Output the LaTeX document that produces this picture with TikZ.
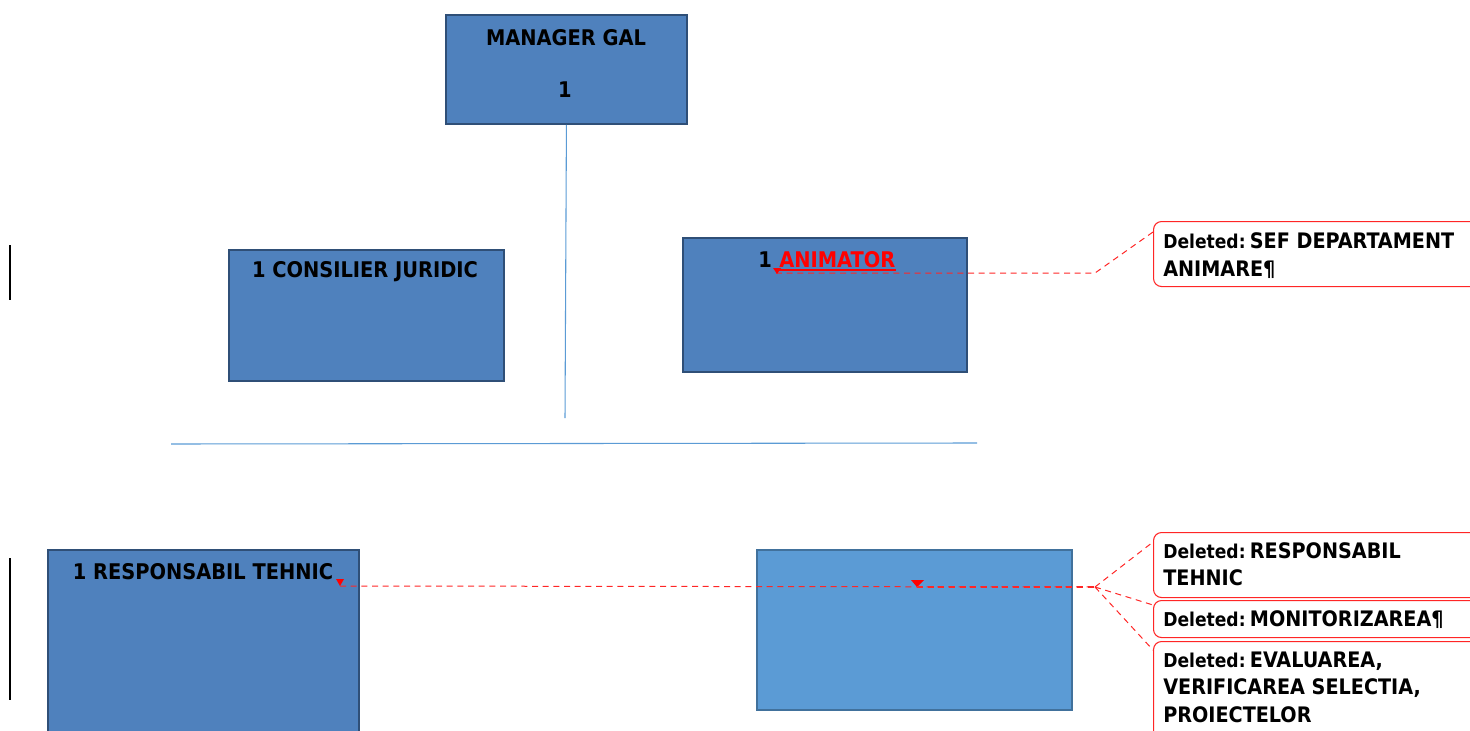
\documentclass[tikz,border=0pt]{standalone}
\usepackage{fontspec}
\setmainfont{DejaVu Sans Condensed}
\usetikzlibrary{calc}
\definecolor{boxfill}{HTML}{4F81BD}
\definecolor{boxedge}{HTML}{2F4F77}
\definecolor{boxfillb}{HTML}{5B9BD5}
\definecolor{boxedgeb}{HTML}{41719C}
\definecolor{linkblue}{HTML}{5B9BD5}
\definecolor{revred}{HTML}{FF0000}
\tikzset{
  orgbox/.style={draw=boxedge, fill=boxfill, line width=1.4pt, inner sep=0pt, anchor=north west, rectangle},
  orgboxb/.style={draw=boxedgeb, fill=boxfillb, line width=1.4pt, inner sep=0pt, anchor=north west, rectangle},
  boxtext/.style={font=\bfseries\fontsize{16.2pt}{19pt}\selectfont, inner sep=0pt, anchor=center},
  conn/.style={draw=linkblue, line width=0.8pt},
  commentbox/.style={draw=revred!85, fill=white, line width=0.8pt, rounded corners=6pt, inner sep=0pt, anchor=north west, rectangle},
  ctext/.style={font=\bfseries\fontsize{16pt}{19pt}\selectfont, inner sep=0pt, anchor=base west},
  revline/.style={draw=revred!85, line width=0.75pt, dash pattern=on 4.5pt off 3.5pt},
  bar/.style={draw=black, line width=1.8pt},
}
\newcommand\dlabel{{\fontsize{14.3pt}{16pt}\selectfont Deleted:}\hspace{0.2em}}
\begin{document}
\begin{tikzpicture}[x=0.75pt,y=-0.75pt]
\useasboundingbox (0,0) rectangle (1470,731);
\clip (0,0) rectangle (1470,731);
% black change bars
\coordinate (b1a) at (10,245); \coordinate (b1b) at (10,300);
\coordinate (b2a) at (10,558); \coordinate (b2b) at (10,700);
\draw[bar] (b1a) -- (b1b);
\draw[bar] (b2a) -- (b2b);
% boxes
\node[orgbox, minimum width=241*0.75pt, minimum height=109*0.75pt] (mgr) at (445,14) {};
\node[orgbox, minimum width=275*0.75pt, minimum height=131*0.75pt] (cons) at (228,249) {};
\node[orgbox, minimum width=284*0.75pt, minimum height=134*0.75pt] (anim) at (682,237) {};
\node[orgbox, minimum width=311*0.75pt, minimum height=200*0.75pt] (resp) at (47,549) {};
\node[orgboxb, minimum width=315*0.75pt, minimum height=160*0.75pt] (blank) at (756,549) {};
% box texts
\node[boxtext] (tmgr) at (566,38) {MANAGER GAL};
\node[boxtext] (tmgr1) at (565,90) {1};
\node[boxtext] (tcons) at (365,272) {1 CONSILIER JURIDIC};
\node[boxtext, anchor=base west] (tanim1) at (758,267) {1};
\node[boxtext, anchor=base west, text=revred] (tanim) at (779,267) {ANIMATOR};
\node[boxtext] (tresp) at (203,572) {1 RESPONSABIL TEHNIC};
% connectors
\coordinate (vend) at (565,418);
\draw[conn] (mgr.south) -- (vend);
\coordinate (hl) at (171,444); \coordinate (hr) at (977,443);
\draw[conn] (hl) -- (hr);
% comment boxes
\node[commentbox, minimum width=330*0.75pt, minimum height=65*0.75pt] (c1) at (1153,221) {};
\node[commentbox, minimum width=330*0.75pt, minimum height=65*0.75pt] (c2) at (1153,532) {};
\node[commentbox, minimum width=330*0.75pt, minimum height=37*0.75pt] (c3) at (1153,600) {};
\node[commentbox, minimum width=330*0.75pt, minimum height=110*0.75pt] (c4) at (1153,641) {};
\node[ctext] (c1a) at (1163,248) {\dlabel SEF DEPARTAMENT};
\node[ctext] (c1b) at (1163,276) {ANIMARE¶};
\node[ctext] (c2a) at (1163,558) {\dlabel RESPONSABIL};
\node[ctext] (c2b) at (1163,585) {TEHNIC};
\node[ctext] (c3a) at (1163,626) {\dlabel MONITORIZAREA¶};
\node[ctext] (c4a) at (1163,667) {\dlabel EVALUAREA,};
\node[ctext] (c4b) at (1163,694) {VERIFICAREA SELECTIA,};
\node[ctext] (c4c) at (1163,722) {PROIECTELOR};
% revision marks
\draw[revred, line width=1.2pt] ($(tanim.base west)+(0,3)$) -- ($(tanim.base east)+(0,3)$);
\coordinate (r1) at (776,273);
\coordinate (j1) at (1095,273);
\draw[revline] (r1) -- (j1) -- ($(c1.north west)+(0,11)$);
\fill[revred] (773,268) -- (781,268) -- (777,274) -- cycle;
\coordinate (r2) at (340,586);
\coordinate (j2) at (1095,587);
\draw[revline] (r2) -- (j2);
\draw[revline] (j2) -- ($(c2.north west)+(0,10)$);
\draw[revline] (j2) -- ($(c3.north west)+(0,5)$);
\draw[revline] (j2) -- ($(c4.north west)+(0,9)$);
\fill[revred] (336,579) -- (344,579) -- (340,586) -- cycle;
\fill[revred] (911,580) -- (924,580) -- (917,587) -- cycle;
\coordinate (r3) at (917,587);
\draw[revline, line width=1.4pt] (r3) -- (j2);
\end{tikzpicture}
\end{document}
